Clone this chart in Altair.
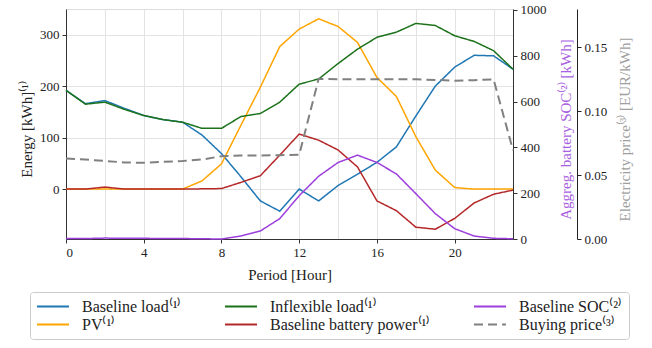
import altair as alt
import pandas as pd

hours = list(range(24))
baseline_load = [192, 166, 172, 157, 143, 135, 130, 105, 69, 24, -23, -43, 0, -23, 7, 29, 52, 82, 142, 200, 237, 260, 259, 233]
inflexible_load = [192, 165, 169, 155, 143, 135, 130, 118, 118, 141, 147, 169, 204, 214, 244, 272, 295, 305, 322, 318, 298, 287, 269, 233]
pv = [0, 0, 0, 0, 0, 0, 0, 16, 49, 124, 198, 277, 311, 331, 316, 285, 217, 180, 102, 37, 3, 0, 0, 0]
battery_power = [0, 0, 4, 0, 0, 0, 0, 0.5, 1, 13, 26, 66, 107, 95, 76, 43, -23, -42, -74, -78, -57, -27, -10, -2]
baseline_soc = [2, 2, 4, 3, 3, 2, 2, 1, 0, 13, 35, 89, 189, 274, 334, 366, 334, 284, 198, 111, 45, 13, 3, 1]
buying_price = [0.0630, 0.0622, 0.0611, 0.0599, 0.0596, 0.0604, 0.0611, 0.0622, 0.0648, 0.0654, 0.0654, 0.0656,
                0.0659, 0.1254, 0.1250, 0.1250, 0.1250, 0.1250, 0.1250, 0.1245, 0.1239, 0.1243, 0.1250, 0.0695]

S_BL = "Baseline load⁽¹⁾"
S_IL = "Inflexible load⁽¹⁾"
S_SOC = "Baseline SOC⁽²⁾"
S_PV = "PV⁽¹⁾"
S_BAT = "Baseline battery power⁽¹⁾"
S_PR = "Buying price⁽³⁾"

# legend fills column by column (2 rows, 3 columns)
legend_order = [S_BL, S_PV, S_IL, S_BAT, S_SOC, S_PR]
colors = ["#1f77b4", "#ffa500", "#1b721b", "#b5282a", "#9d3fdd", "#808080"]
dashes = [[1, 0], [1, 0], [1, 0], [1, 0], [1, 0], [9, 5]]

def long(series_dict):
    rows = []
    for name, vals in series_dict.items():
        for h, v in zip(hours, vals):
            rows.append({"hour": h, "value": v, "series": name})
    return pd.DataFrame(rows)

energy_df = long({S_BL: baseline_load, S_PV: pv, S_IL: inflexible_load, S_BAT: battery_power})
soc_df = long({S_SOC: baseline_soc})
price_df = long({S_PR: buying_price})

FONT = "Liberation Serif"

def make_legend():
    return alt.Legend(title=None, orient="none", legendX=-36, legendY=283,
                      columns=3, columnPadding=42, rowPadding=1, clipHeight=17,
                      symbolType="stroke", symbolSize=1024, symbolStrokeWidth=1.8,
                      labelOffset=12, labelFont=FONT, labelFontSize=16,
                      labelColor="#222", strokeColor="#cccccc", padding=6,
                      cornerRadius=3, fillColor="white", labelLimit=300)

color_enc = alt.Color("series:N", scale=alt.Scale(domain=legend_order, range=colors), legend=make_legend())
dash_enc = alt.StrokeDash("series:N", scale=alt.Scale(domain=legend_order, range=dashes), legend=make_legend())

x_scale = alt.Scale(domain=[0, 23], nice=False, zero=False)

energy = alt.Chart(energy_df).mark_line(strokeWidth=1.5).encode(
    x=alt.X("hour:Q", scale=x_scale,
            axis=alt.Axis(orient="top", values=list(range(0, 24, 2)), grid=True, gridColor="#e3e3e3",
                          labels=False, ticks=False, domain=False, title=None)),
    y=alt.Y("value:Q", scale=alt.Scale(domain=[-97, 350], nice=False, zero=False),
            axis=alt.Axis(orient="left", values=[0, 100, 200, 300], grid=True, gridColor="#e3e3e3",
                          title="Energy [kWh]⁽¹⁾", titleFont=FONT, titleFontSize=15, titleFontWeight="normal",
                          titleColor="#222", titlePadding=5, titleY=120,
                          labelFont=FONT, labelFontSize=13, labelColor="#222", labelPadding=3,
                          tickSize=4, tickColor="#333", domainColor="#333")),
    color=color_enc,
    strokeDash=dash_enc,
)

soc = alt.Chart(soc_df).mark_line(strokeWidth=1.5).encode(
    x=alt.X("hour:Q", scale=x_scale,
            axis=alt.Axis(orient="bottom", values=[0, 4, 8, 12, 16, 20], grid=False,
                          title="Period [Hour]", titleFont=FONT, titleFontSize=15, titleFontWeight="normal",
                          titleColor="#222", titlePadding=8,
                          labelFont=FONT, labelFontSize=13, labelColor="#222", labelPadding=3,
                          tickSize=4, tickColor="#333", domainColor="#333")),
    y=alt.Y("value:Q", scale=alt.Scale(domain=[0, 1004], nice=False, zero=False),
            axis=alt.Axis(orient="right", values=[0, 200, 400, 600, 800, 1000], format="d", grid=False,
                          title="Aggreg. battery SOC⁽²⁾ [kWh]", titleFont=FONT, titleFontSize=15,
                          titleFontWeight="normal", titleColor="#a861e0", titleAngle=270,
                          titleX=52, titleY=120, titleAlign="center", titleBaseline="middle",
                          labelFont=FONT, labelFontSize=13, labelColor="#222", labelPadding=3,
                          tickSize=4, tickColor="#333", domainColor="#333")),
    color=color_enc,
    strokeDash=dash_enc,
)

price = alt.Chart(price_df).mark_line(strokeWidth=2).encode(
    x=alt.X("hour:Q", scale=x_scale, axis=None),
    y=alt.Y("value:Q", scale=alt.Scale(domain=[0, 0.18], nice=False, zero=False),
            axis=alt.Axis(orient="right", offset=64, values=[0, 0.05, 0.10, 0.15], format=".2f", grid=False,
                          title="Electricity price⁽³⁾ [EUR/kWh]", titleFont=FONT, titleFontSize=15,
                          titleFontWeight="normal", titleColor="#a0a0a0", titleAngle=270,
                          titleX=47, titleY=120, titleAlign="center", titleBaseline="middle",
                          labelFont=FONT, labelFontSize=13, labelColor="#222", labelPadding=3,
                          tickSize=4, tickColor="#222", domainColor="#222")),
    color=color_enc,
    strokeDash=dash_enc,
)

chart = alt.layer(energy, soc, price).resolve_scale(
    y="independent", color="shared", strokeDash="shared"
).resolve_axis(x="independent", y="independent").properties(
    width=447, height=230,
    padding={"left": 66, "top": 9, "right": 139, "bottom": 109},
    autosize=alt.AutoSizeParams(type="none"),
).configure_view(stroke="#333", strokeWidth=1).configure_axis(
    labelFont=FONT, labelFontSize=13, titleFont=FONT
).configure_legend(labelFont=FONT).configure(background="white")

chart.save("out.html", embed_options={"renderer": "svg", "actions": False})
